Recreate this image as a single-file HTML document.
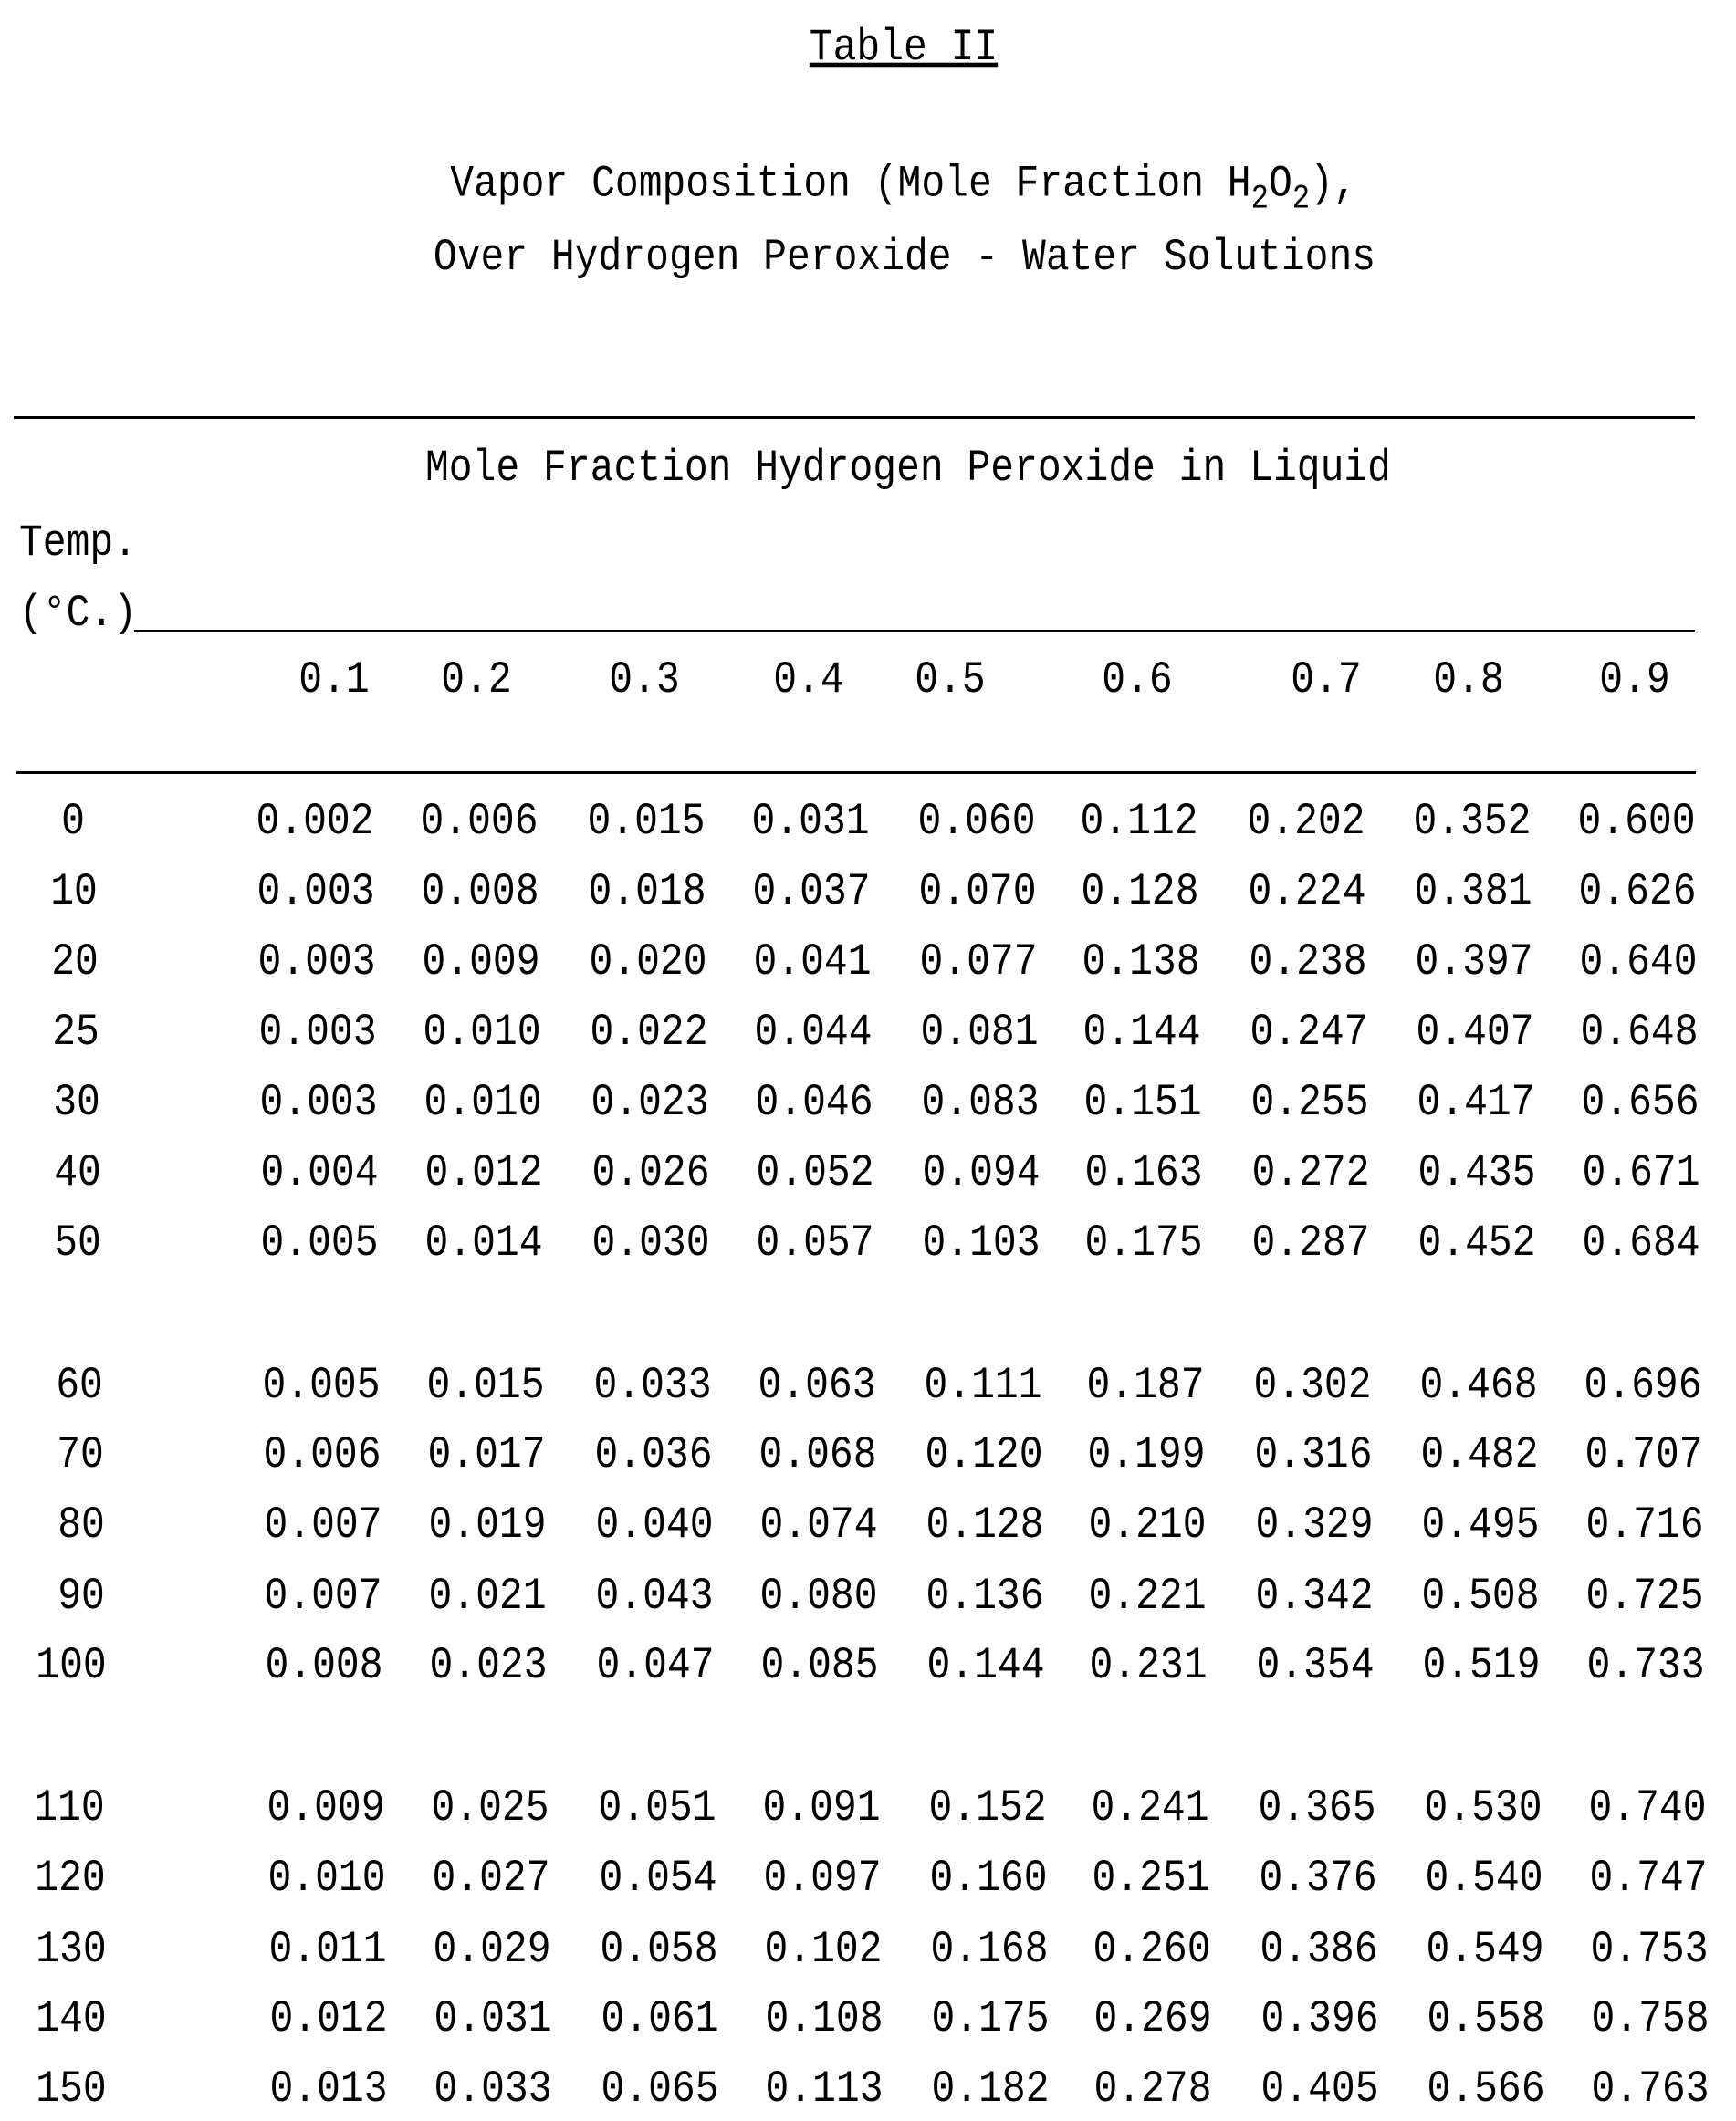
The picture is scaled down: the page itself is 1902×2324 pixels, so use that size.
<!DOCTYPE html>
<html><head><meta charset="utf-8"><style>
html,body{margin:0;padding:0;background:#fff;}
body{width:1902px;height:2324px;position:relative;overflow:hidden;font-family:"Liberation Mono",monospace;color:#000;font-size:43px;}
.t{position:absolute;white-space:nowrap;transform:translate(-50%,-50%) scaleY(1.15);line-height:1;}
.l{position:absolute;white-space:nowrap;transform:translateY(-50%) scaleY(1.15);transform-origin:left center;line-height:1;}
.r{position:absolute;left:0;width:1902px;height:0;}
.r div{position:absolute;top:0;transform:translate(-50%,-50%) scaleY(1.15);line-height:1;white-space:nowrap;}
.r .a{left:80px}.r .b{left:345px}.r .c{left:525px}.r .d{left:708px}.r .e{left:888px}.r .f{left:1070px}.r .g{left:1248px}.r .h{left:1431px}.r .i{left:1613px}.r .j{left:1793px}
.rule{position:absolute;background:#000;height:3px;}
sub{font-size:0.75em;vertical-align:-0.35em;}
</style></head><body>
<div class="t" style="left:990px;top:52px;text-decoration:underline;">Table II</div>
<div class="t" style="left:990px;top:207px;">Vapor Composition (Mole Fraction H<sub>2</sub>O<sub>2</sub>),</div>
<div class="t" style="left:991px;top:282px;">Over Hydrogen Peroxide - Water Solutions</div>
<div class="rule" style="left:15px;top:456px;width:1842px;"></div>
<div class="t" style="left:995px;top:513px;">Mole Fraction Hydrogen Peroxide in Liquid</div>
<div class="l" style="left:21px;top:595px;">Temp.</div>
<div class="l" style="left:21px;top:672px;">(°C.)</div>
<div class="rule" style="left:147px;top:690px;width:1710px;"></div>
<div class="r" style="top:745px;"><div style="left:366px">0.1</div><div style="left:522px">0.2</div><div style="left:706px">0.3</div><div style="left:886px">0.4</div><div style="left:1041px">0.5</div><div style="left:1246px">0.6</div><div style="left:1453px">0.7</div><div style="left:1609px">0.8</div><div style="left:1791px">0.9</div></div>
<div class="rule" style="left:18px;top:845px;width:1840px;"></div>

<div class="r" style="top:900px;"><div class="a">0</div><div class="b">0.002</div><div class="c">0.006</div><div class="d">0.015</div><div class="e">0.031</div><div class="f">0.060</div><div class="g">0.112</div><div class="h">0.202</div><div class="i">0.352</div><div class="j">0.600</div></div>
<div class="r" style="top:977px;left:1px"><div class="a">10</div><div class="b">0.003</div><div class="c">0.008</div><div class="d">0.018</div><div class="e">0.037</div><div class="f">0.070</div><div class="g">0.128</div><div class="h">0.224</div><div class="i">0.381</div><div class="j">0.626</div></div>
<div class="r" style="top:1054px;left:2px"><div class="a">20</div><div class="b">0.003</div><div class="c">0.009</div><div class="d">0.020</div><div class="e">0.041</div><div class="f">0.077</div><div class="g">0.138</div><div class="h">0.238</div><div class="i">0.397</div><div class="j">0.640</div></div>
<div class="r" style="top:1131px;left:3px"><div class="a">25</div><div class="b">0.003</div><div class="c">0.010</div><div class="d">0.022</div><div class="e">0.044</div><div class="f">0.081</div><div class="g">0.144</div><div class="h">0.247</div><div class="i">0.407</div><div class="j">0.648</div></div>
<div class="r" style="top:1208px;left:4px"><div class="a">30</div><div class="b">0.003</div><div class="c">0.010</div><div class="d">0.023</div><div class="e">0.046</div><div class="f">0.083</div><div class="g">0.151</div><div class="h">0.255</div><div class="i">0.417</div><div class="j">0.656</div></div>
<div class="r" style="top:1285px;left:5px"><div class="a">40</div><div class="b">0.004</div><div class="c">0.012</div><div class="d">0.026</div><div class="e">0.052</div><div class="f">0.094</div><div class="g">0.163</div><div class="h">0.272</div><div class="i">0.435</div><div class="j">0.671</div></div>
<div class="r" style="top:1362px;left:5px"><div class="a">50</div><div class="b">0.005</div><div class="c">0.014</div><div class="d">0.030</div><div class="e">0.057</div><div class="f">0.103</div><div class="g">0.175</div><div class="h">0.287</div><div class="i">0.452</div><div class="j">0.684</div></div>

<div class="r" style="top:1518px;left:7px"><div class="a">60</div><div class="b">0.005</div><div class="c">0.015</div><div class="d">0.033</div><div class="e">0.063</div><div class="f">0.111</div><div class="g">0.187</div><div class="h">0.302</div><div class="i">0.468</div><div class="j">0.696</div></div>
<div class="r" style="top:1594px;left:8px"><div class="a">70</div><div class="b">0.006</div><div class="c">0.017</div><div class="d">0.036</div><div class="e">0.068</div><div class="f">0.120</div><div class="g">0.199</div><div class="h">0.316</div><div class="i">0.482</div><div class="j">0.707</div></div>
<div class="r" style="top:1671px;left:9px"><div class="a">80</div><div class="b">0.007</div><div class="c">0.019</div><div class="d">0.040</div><div class="e">0.074</div><div class="f">0.128</div><div class="g">0.210</div><div class="h">0.329</div><div class="i">0.495</div><div class="j">0.716</div></div>
<div class="r" style="top:1749px;left:9px"><div class="a">90</div><div class="b">0.007</div><div class="c">0.021</div><div class="d">0.043</div><div class="e">0.080</div><div class="f">0.136</div><div class="g">0.221</div><div class="h">0.342</div><div class="i">0.508</div><div class="j">0.725</div></div>
<div class="r" style="top:1825px;left:10px"><div class="a" style="margin-left:-12px">100</div><div class="b">0.008</div><div class="c">0.023</div><div class="d">0.047</div><div class="e">0.085</div><div class="f">0.144</div><div class="g">0.231</div><div class="h">0.354</div><div class="i">0.519</div><div class="j">0.733</div></div>

<div class="r" style="top:1981px;left:12px"><div class="a" style="margin-left:-16px">110</div><div class="b">0.009</div><div class="c">0.025</div><div class="d">0.051</div><div class="e">0.091</div><div class="f">0.152</div><div class="g">0.241</div><div class="h">0.365</div><div class="i">0.530</div><div class="j">0.740</div></div>
<div class="r" style="top:2058px;left:13px"><div class="a" style="margin-left:-16px">120</div><div class="b">0.010</div><div class="c">0.027</div><div class="d">0.054</div><div class="e">0.097</div><div class="f">0.160</div><div class="g">0.251</div><div class="h">0.376</div><div class="i">0.540</div><div class="j">0.747</div></div>
<div class="r" style="top:2136px;left:14px"><div class="a" style="margin-left:-16px">130</div><div class="b">0.011</div><div class="c">0.029</div><div class="d">0.058</div><div class="e">0.102</div><div class="f">0.168</div><div class="g">0.260</div><div class="h">0.386</div><div class="i">0.549</div><div class="j">0.753</div></div>
<div class="r" style="top:2212px;left:15px"><div class="a" style="margin-left:-17px">140</div><div class="b">0.012</div><div class="c">0.031</div><div class="d">0.061</div><div class="e">0.108</div><div class="f">0.175</div><div class="g">0.269</div><div class="h">0.396</div><div class="i">0.558</div><div class="j">0.758</div></div>
<div class="r" style="top:2289px;left:15px"><div class="a" style="margin-left:-17px">150</div><div class="b">0.013</div><div class="c">0.033</div><div class="d">0.065</div><div class="e">0.113</div><div class="f">0.182</div><div class="g">0.278</div><div class="h">0.405</div><div class="i">0.566</div><div class="j">0.763</div></div>
</body></html>
